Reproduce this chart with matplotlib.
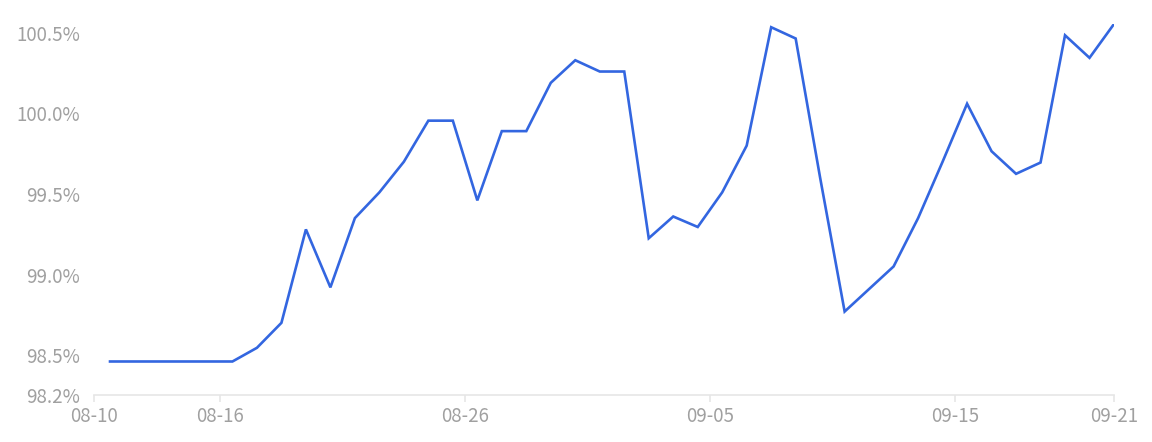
import pandas as pd
import matplotlib
matplotlib.use("Agg")
import matplotlib.pyplot as plt
import matplotlib.dates as mdates

plt.rcParams['font.family'] = ['Noto Sans CJK SC', 'DejaVu Sans']

# 일별 값 (%), 08-11 ~ 09-21
start_date = "2024-08-11 12:00"
values = [98.46, 98.46, 98.46, 98.46, 98.46, 98.46, 98.545, 98.70, 99.28, 98.92,
          99.35, 99.51, 99.70, 99.955, 99.955, 99.46, 99.89, 99.89, 100.19, 100.33,
          100.26, 100.26, 99.225, 99.36, 99.295, 99.51, 99.80, 100.535, 100.465, 99.60,
          98.77, 98.91, 99.05, 99.35, 99.70, 100.06, 99.765, 99.625, 99.695, 100.485,
          100.345, 100.555]
tick_dates = ["2024-08-16", "2024-08-26", "2024-09-05", "2024-09-15"]
y_ticks = [98.5, 99.0, 99.5, 100.0, 100.5]
y_tick_labels = ["98.5%", "99.0%", "99.5%", "100.0%", "100.5%"]
y_min = 98.252
y_min_label = "98.2%"

COLOR_LINE = '#3366e0'
COLOR_TEXT = '#a0a0a0'
COLOR_AXIS = '#e6e6e6'

dates = pd.date_range(start_date, periods=len(values), freq='D')

fig = plt.figure(figsize=(11.52, 4.42), dpi=100)
ax = fig.add_axes([94 / 1152, 1 - 395 / 442, (1114 - 94) / 1152, (395 - 24) / 442])
ax.plot(dates, values, color=COLOR_LINE, linewidth=1.9, solid_joinstyle='miter')

x_left = dates[0] - pd.Timedelta(hours=15.7)
x_right = dates[-1]
ax.set_xlim(x_left, x_right)
ax.set_ylim(y_min, max(values))

xt = [x_left] + [pd.Timestamp(d) for d in tick_dates] + [x_right]
ax.set_xticks(xt)
ax.xaxis.set_major_formatter(mdates.DateFormatter('%m-%d'))

ax.set_yticks([y_min] + y_ticks)
ax.set_yticklabels([y_min_label] + y_tick_labels)

for s in ['top', 'right', 'left']:
    ax.spines[s].set_visible(False)
ax.spines['bottom'].set_color(COLOR_AXIS)
ax.spines['bottom'].set_linewidth(1.2)
ax.tick_params(axis='x', colors=COLOR_AXIS, labelcolor=COLOR_TEXT, length=5, width=1.2,
               labelsize=13.5, pad=3)
ax.tick_params(axis='y', length=0, labelcolor=COLOR_TEXT, labelsize=13.5, pad=10)

plt.savefig("out.png", dpi=100)
plt.close()
